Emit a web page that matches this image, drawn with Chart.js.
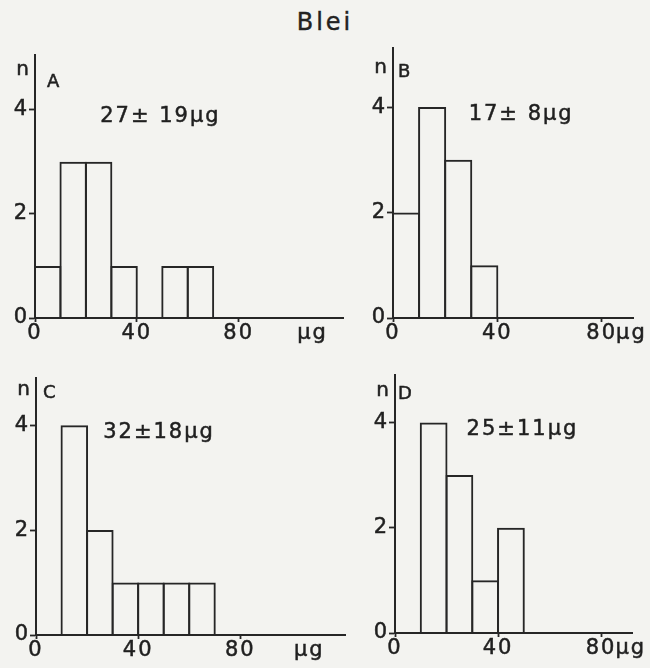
<!DOCTYPE html>
<html>
<head>
<meta charset="utf-8">
<script src="https://cdn.jsdelivr.net/npm/chart.js@4.4.1/dist/chart.umd.min.js"></script>
<style>
  html, body { margin: 0; padding: 0; }
  body {
    width: 650px; height: 668px; position: relative; overflow: hidden;
    background: #f3f3f0;
    font-family: "DejaVu Sans", "Liberation Sans", Arial, sans-serif;
  }
  #title {
    position: absolute; left: 0; top: 8px; width: 650px;
    text-align: center; font-size: 24px; letter-spacing: 3px; color: #222;
    -webkit-text-stroke: 0.4px #222;
  }
  canvas { position: absolute; }
</style>
</head>
<body>
<div id="title"></div>
<canvas id="chartA"></canvas>
<canvas id="chartB"></canvas>
<canvas id="chartC"></canvas>
<canvas id="chartD"></canvas>

<script>
// data (histograms, 10 µg bins)
const TITLE = 'Blei';
const binStarts = [0, 10, 20, 30, 40, 50, 60];
const binWidth = 10;
const countsA = [1, 3, 3, 1, 0, 1, 1];
const countsB = [2, 4, 3, 1];
const countsC = [0, 4, 2, 1, 1, 1, 1];
const countsD = [0, 4, 3, 1, 2];
const yTicks = [0, 2, 4];
const xTicks = [0, 40, 80];
const panelLetters = ['A', 'B', 'C', 'D'];
const statLabels = ['27± 19µg', '17± 8µg', '32±18µg', '25±11µg'];
const countLabel = 'n';
const unitLabel = 'µg';

const FONT = '"DejaVu Sans", "Liberation Sans", Arial, sans-serif';
const INK = '#1f1f1f';
const LINE = '#262626';

// where each panel sits on the page
const panels = [
  { id: 'chartA', counts: countsA, left: 0,   top: 40,  width: 350, height: 310, padTop: 15, padRight: 7,  xAxisH: 32, xMax: 121, yMax: 5.05,
    nY: 4.67, letterY: 4.44, letterDx: 12, statX: 25.6, unitX: 103 },
  { id: 'chartB', counts: countsB, left: 358, top: 40,  width: 292, height: 310, padTop: 8,  padRight: 17, xAxisH: 32, xMax: 92,  yMax: 5.12,
    nY: 4.64, letterY: 4.57, letterDx: 5,  statX: 29,   unitX: null },
  { id: 'chartC', counts: countsC, left: 1,   top: 360, width: 349, height: 308, padTop: 18, padRight: 5,  xAxisH: 33, xMax: 121, yMax: 4.9,
    nY: 4.57, letterY: 4.51, letterDx: 7,  statX: 26.3, unitX: 101 },
  { id: 'chartD', counts: countsD, left: 360, top: 360, width: 290, height: 308, padTop: 15, padRight: 18, xAxisH: 35, xMax: 92,  yMax: 4.9,
    nY: 4.51, letterY: 4.44, letterDx: 3,  statX: 27.8, unitX: null },
];

document.getElementById('title').textContent = TITLE;

// slightly spaced print look for the tick labels
const spacing = {
  id: 'spacing',
  beforeDraw(chart) { chart.ctx.letterSpacing = '2px'; }
};

function heavyText(ctx, str, x, y) {
  ctx.strokeText(str, x, y);
  ctx.fillText(str, x, y);
}

// n, panel letter, mean ± sd and unit
const panelText = {
  id: 'panelText',
  afterDraw(chart, args, o) {
    const { ctx, chartArea } = chart;
    const xs = chart.scales.x, ys = chart.scales.y;
    ctx.save();
    ctx.fillStyle = INK;
    ctx.strokeStyle = INK;
    ctx.lineWidth = 0.5;
    ctx.textBaseline = 'alphabetic';

    ctx.letterSpacing = '0px';
    ctx.font = '20px ' + FONT;
    ctx.textAlign = 'right';
    heavyText(ctx, countLabel, chartArea.left - 6, ys.getPixelForValue(o.nY));

    ctx.font = '18px ' + FONT;
    ctx.textAlign = 'left';
    heavyText(ctx, o.letter, chartArea.left + o.letterDx, ys.getPixelForValue(o.letterY));

    ctx.letterSpacing = '2px';
    ctx.font = '21px ' + FONT;
    heavyText(ctx, o.stat, xs.getPixelForValue(o.statX), ys.getPixelForValue(3.76));

    // unit on the x axis, same line as the tick labels
    ctx.textBaseline = 'middle';
    const yLab = chartArea.bottom + 3 + 12.6;
    let xu;
    if (o.unitX != null) {
      xu = xs.getPixelForValue(o.unitX);
    } else {
      xu = xs.getPixelForValue(xTicks[xTicks.length - 1]) + ctx.measureText('80').width / 2 - 1;
    }
    heavyText(ctx, unitLabel, xu, yLab);
    ctx.restore();
  }
};

function makePanel(p, i) {
  const cv = document.getElementById(p.id);
  cv.width = p.width;
  cv.height = p.height;
  cv.style.left = p.left + 'px';
  cv.style.top = p.top + 'px';

  const points = p.counts
    .map((c, k) => ({ x: binStarts[k] + binWidth / 2, y: c }))
    .filter(pt => pt.y > 0);

  const tickFont = { family: FONT, size: 21 };

  return new Chart(cv, {
    type: 'bar',
    data: {
      datasets: [{
        data: points,
        backgroundColor: 'rgba(0,0,0,0)',
        borderColor: LINE,
        borderWidth: 2,
        borderSkipped: 'start',
        barPercentage: 1.078,
        categoryPercentage: 1,
        inflateAmount: 0
      }]
    },
    options: {
      responsive: false,
      animation: false,
      events: [],
      layout: { padding: { top: p.padTop, right: p.padRight, left: 0, bottom: 0 } },
      plugins: {
        legend: { display: false },
        tooltip: { enabled: false },
        title: { display: false },
        panelText: { letter: panelLetters[i], stat: statLabels[i], nY: p.nY, letterY: p.letterY,
                     letterDx: p.letterDx, statX: p.statX, unitX: p.unitX }
      },
      scales: {
        x: {
          type: 'linear',
          min: 0,
          max: p.xMax,
          offset: false,
          afterBuildTicks: s => { s.ticks = xTicks.map(v => ({ value: v })); },
          afterFit: s => { s.height = p.xAxisH; s.paddingLeft = 0; s.paddingRight = 0; },
          grid: { display: true, drawOnChartArea: false, offset: false, tickLength: 4, tickWidth: 1.8, tickColor: LINE },
          border: { display: true, color: LINE, width: 2 },
          ticks: { color: INK, font: tickFont, padding: -1, maxRotation: 0, autoSkip: false,
                   textStrokeColor: INK, textStrokeWidth: 0.5 }
        },
        y: {
          type: 'linear',
          min: 0,
          max: p.yMax,
          afterBuildTicks: s => { s.ticks = yTicks.map(v => ({ value: v })); },
          afterFit: s => { s.width = 35; s.paddingTop = 0; s.paddingBottom = 0; },
          grid: { display: true, drawOnChartArea: false, tickLength: 6, tickWidth: 1.8, tickColor: LINE },
          border: { display: true, color: LINE, width: 2 },
          ticks: { color: INK, font: tickFont, padding: 0, autoSkip: false,
                   textStrokeColor: INK, textStrokeWidth: 0.5 }
        }
      }
    },
    plugins: [spacing, panelText]
  });
}

panels.forEach(makePanel);
</script>
</body>
</html>
